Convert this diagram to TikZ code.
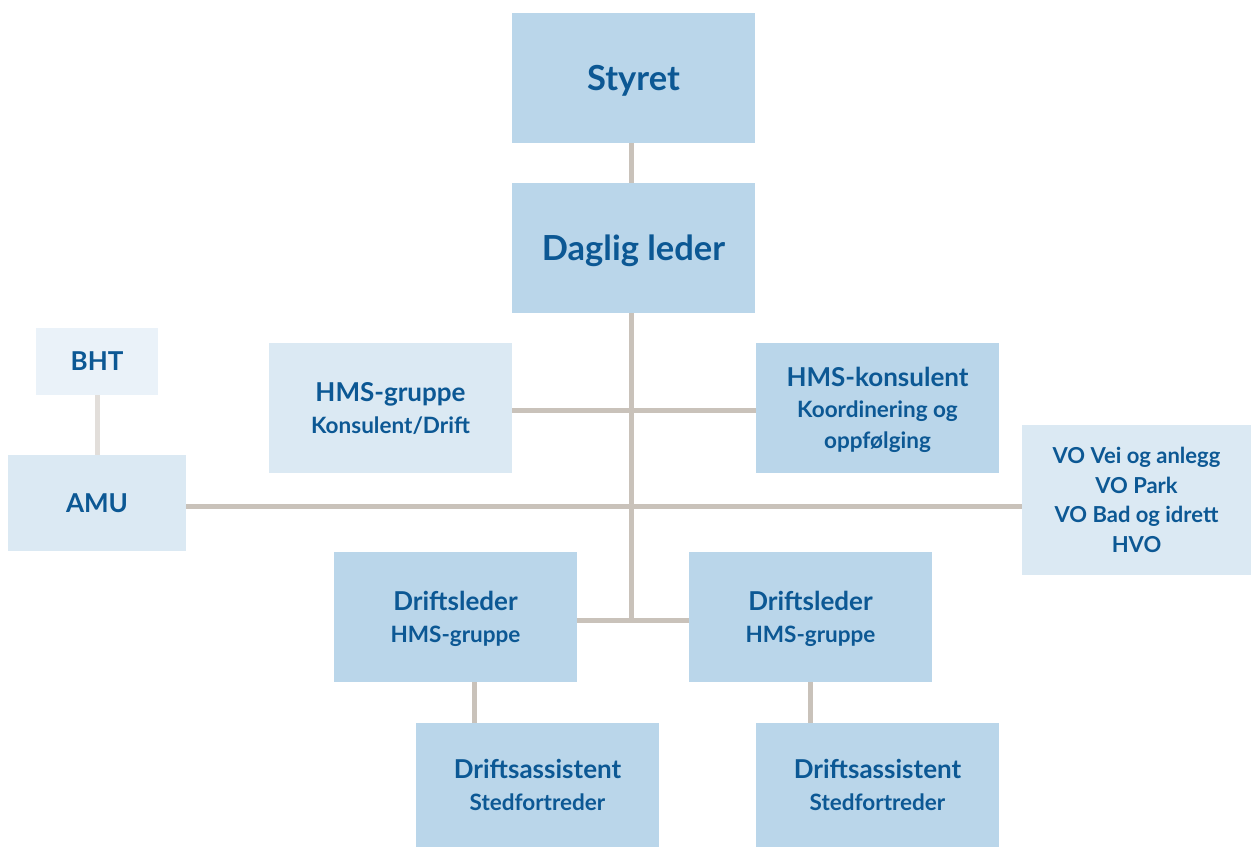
\documentclass[tikz,border=0pt]{standalone}
\usepackage{fontspec}
\setmainfont{Lato}
\usepackage{tikz}
\usetikzlibrary{backgrounds}
\usepackage{xcolor}
\definecolor{boks-mork}{RGB}{186,214,234}
\definecolor{boks-lys}{RGB}{219,233,243}
\definecolor{boks-lysest}{RGB}{234,242,249}
\definecolor{tekst-blaa}{RGB}{12,88,148}
\definecolor{linje-graa}{RGB}{201,194,186}
\definecolor{linje-lys}{RGB}{226,222,218}
\tikzstyle{boks}=[rectangle, inner sep=0pt, text=tekst-blaa, align=center, text depth=-6pt, minimum width=243pt, minimum height=130pt, font=\bfseries\fontsize{22.5}{32}\selectfont]
\tikzstyle{mork}=[boks, fill=boks-mork]
\tikzstyle{lys}=[boks, fill=boks-lys]
\tikzstyle{linje}=[draw=linje-graa, line width=5pt]
\newcommand{\tittel}[1]{{\fontsize{26}{32}\selectfont #1}}
\newcommand{\stor}[1]{{\fontsize{34.5}{40}\selectfont #1}}

\begin{document}
\begin{tikzpicture}[x=1pt, y=-1pt]
	\useasboundingbox (0,0) rectangle (1252,847);
	\node[mork] (styret) at (633.5,78) {\stor{Styret}};
	\node[mork] (daglig) at (633.5,248) {\stor{Daglig leder}};
	\node[lys] (hmsg) at (390.5,408) {\tittel{HMS-gruppe}\\Konsulent/Drift};
	\node[mork, font=\bfseries\fontsize{22.5}{31}\selectfont] (hmsk) at (877.5,408) {\tittel{HMS-konsulent}\\Koordinering og\\oppfølging};
	\node[boks, fill=boks-lysest, minimum width=122pt, minimum height=67pt] (bht) at (97,361.5) {\tittel{BHT}};
	\node[lys, minimum width=178pt, minimum height=96pt] (amu) at (97,503) {\tittel{AMU}};
	\node[lys, minimum width=229pt, minimum height=150pt, font=\bfseries\fontsize{22}{29.5}\selectfont] (vo) at (1136.5,500) {VO Vei og anlegg\\VO Park\\VO Bad og idrett\\HVO};
	\node[mork] (dl1) at (455.5,617) {\tittel{Driftsleder}\\HMS-gruppe};
	\node[mork] (dl2) at (810.5,617) {\tittel{Driftsleder}\\HMS-gruppe};
	\node[mork, minimum height=124pt] (da1) at (537.5,785) {\tittel{Driftsassistent}\\Stedfortreder};
	\node[mork, minimum height=124pt] (da2) at (877.5,785) {\tittel{Driftsassistent}\\Stedfortreder};
	\coordinate (stamme) at (631,620);
	\coordinate (k1) at (631,410);
	\coordinate (k2) at (631,506);
	\coordinate (f1) at (474,700);
	\begin{scope}[on background layer]
		\draw[linje] (styret.south -| stamme) -- (daglig.north -| stamme);
		\draw[linje] (daglig.south -| stamme) -- (stamme);
		\draw[linje] (hmsg.east |- k1) -- (hmsk.west |- k1);
		\draw[linje] (amu.east |- k2) -- (vo.west |- k2);
		\draw[linje] (dl1.east |- stamme) -- (dl2.west |- stamme);
		\draw[linje] (dl1.south -| f1) -- (da1.north -| f1);
		\draw[linje] (dl2.south) -- (dl2.south |- da2.north);
		\draw[linje, draw=linje-lys] (bht.south) -- (bht.south |- amu.north);
	\end{scope}
\end{tikzpicture}
\end{document}
